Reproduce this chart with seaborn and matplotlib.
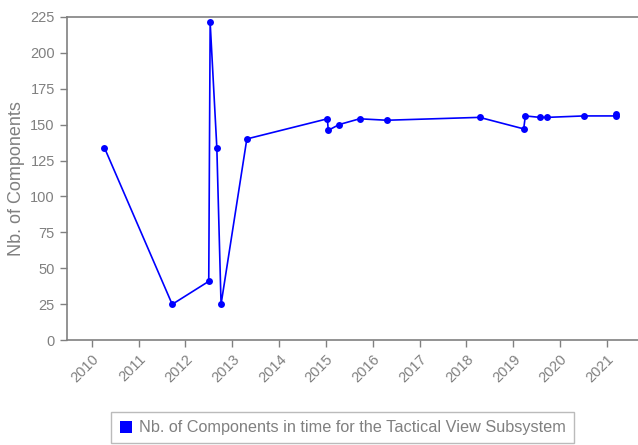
#number of components over time for the tactical view subsystem
import pandas as pd
import matplotlib.pyplot as plt
import matplotlib.dates as mdates
from matplotlib.lines import Line2D
import seaborn as sns

#dates and component counts
dates = [
    "2010-04-09", "2011-09-20", "2012-07-01", "2012-07-12", "2012-09-02",
    "2012-10-05", "2013-04-24", "2015-01-12", "2015-01-19", "2015-04-14",
    "2015-09-20", "2016-04-20", "2018-04-13", "2019-03-23", "2019-04-05",
    "2019-07-27", "2019-09-24", "2020-07-05", "2021-03-10", "2021-03-14",
]
components = [134, 25, 41, 221, 134, 25, 140, 154, 146, 150,
              154, 153, 155, 147, 156, 155, 155, 156, 156, 157]
series_label = "Nb. of Components in time for the Tactical View Subsystem"

df = pd.DataFrame({"date": pd.to_datetime(dates), "components": components})

sns.set_style("white")
plt.rcParams["font.family"] = ["Liberation Sans", "DejaVu Sans"]

grey = "#808080"
blue = "#0000ff"

fig = plt.figure(figsize=(6.38, 4.45), dpi=100)
ax = fig.add_axes([0.1045, 0.2353, 0.895, 0.7272])

sns.lineplot(data=df, x="date", y="components", ax=ax, color=blue,
             linewidth=1.2, marker="o", markersize=5, markeredgewidth=0,
             sort=False, estimator=None)

ax.set_xlim(pd.Timestamp("2009-06-19"), pd.Timestamp("2021-08-28"))
ax.set_ylim(0, 225)
ax.set_yticks(range(0, 226, 25))
ax.xaxis.set_major_locator(mdates.YearLocator())
ax.xaxis.set_major_formatter(mdates.DateFormatter("%Y"))

for lbl in ax.get_xticklabels():
    lbl.set_rotation(45)
    lbl.set_ha("right")
    lbl.set_rotation_mode("anchor")

ax.tick_params(axis="both", colors=grey, labelcolor=grey, labelsize=10.5,
               length=5, width=1, direction="out", bottom=True, left=True)
ax.set_xlabel("")
ax.set_ylabel("Nb. of Components", color=grey, fontsize=13)

for side in ["left", "bottom", "top"]:
    ax.spines[side].set_color(grey)
    ax.spines[side].set_linewidth(1.2)
ax.spines["right"].set_visible(False)

handle = Line2D([], [], linestyle="none", marker="s", markersize=9,
                color=blue, markeredgewidth=0)
leg = fig.legend([handle], [series_label], loc="upper center",
                 bbox_to_anchor=(0.537, 0.092), fontsize=11.7, frameon=True,
                 fancybox=False, handlelength=0.8, handletextpad=0.4,
                 borderpad=0.5)
leg.get_frame().set_edgecolor("#aaaaaa")
for t in leg.get_texts():
    t.set_color(grey)

fig.savefig("out.png", dpi=100)
